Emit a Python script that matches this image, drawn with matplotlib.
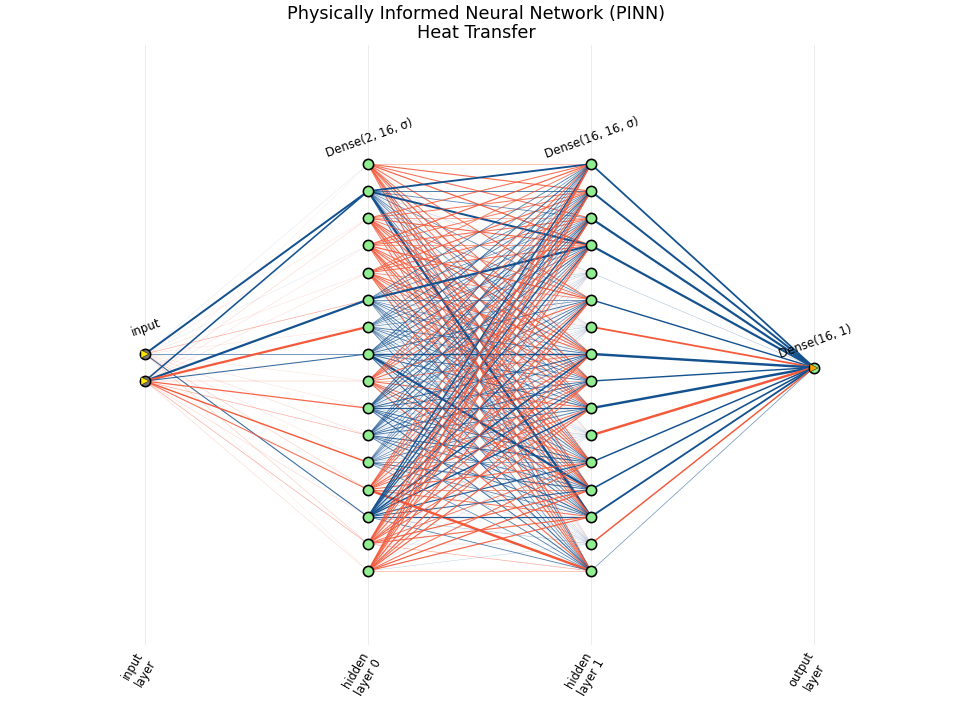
import matplotlib
matplotlib.use("Agg")
import matplotlib.pyplot as plt
from matplotlib.transforms import ScaledTranslation
import numpy as np
from matplotlib.colors import to_rgba

title = "Physically Informed Neural Network (PINN)\nHeat Transfer"
layer_sizes = [2, 16, 16, 1]
layer_tick_labels = ["input\nlayer", "hidden\nlayer 0", "hidden\nlayer 1", "output\nlayer"]
layer_captions = ["input", "Dense(2, 16, σ)", "Dense(16, 16, σ)", "Dense(16, 1)"]

# Signed connection strengths in percent, positive drawn blue, negative red.
input_to_h0 = [
    [5, 75, -8, 5, -10, -30, -10, 40, -10, -10, -15, -10, -20, 50, -20, -5],
    [-5, 65, -15, -10, -12, 80, -80, 50, -20, -55, -30, -60, -50, -15, -30, -15],
]
h0_to_h1 = [
    [-32, -52, -50, -55, -8, -50, -12, -48, -55, -45, -6, -50, -52, -48, -10, -50],
    [72, 45, 40, 75, 18, 38, 15, 42, 36, 40, 14, 38, 45, 82, 12, 44],
    [-50, -48, -35, -52, -6, -46, 8, -54, -48, -50, -10, -52, -44, -52, 8, -46],
    [-54, -46, -50, -40, -10, -55, 6, -50, -46, -52, -8, -50, -55, -44, -12, -48],
    [-46, -52, -48, -50, 8, -40, -10, -52, -50, -46, 6, -54, -46, -50, -8, -52],
    [42, 38, 36, 78, 16, 40, 18, 36, 42, 40, 16, 44, 38, 42, 14, 36],
    [36, 42, 40, 38, 20, 36, 14, 44, 38, 42, 18, 36, 40, 38, 16, 42],
    [48, 40, 44, 42, 16, 46, 20, 62, 44, 48, 14, 40, 80, 46, 18, 50],
    [-50, -46, -52, -48, -8, -52, 10, -46, -30, -50, -10, -48, -52, -46, 8, -52],
    [46, 50, 44, 48, 18, 42, 16, 50, 46, 55, 20, 46, 44, 50, 14, 48],
    [40, 44, 48, 42, 14, 46, 18, 42, 48, 44, 16, 50, 42, 46, 20, 42],
    [30, 34, 38, 40, 20, 36, 14, 38, 34, 42, 18, 36, 48, 40, 16, 38],
    [-48, -52, -46, -50, -10, -48, 8, -52, -46, -50, 8, -52, -40, -48, -8, -85],
    [60, 52, 58, 54, 18, 56, 20, 65, 52, 60, 16, 54, 50, 55, 22, 42],
    [-55, -50, -54, -46, 6, -52, -10, -48, -54, -50, -8, -46, -54, -52, 12, -30],
    [-56, -54, -50, -52, -10, -54, 8, -56, -50, -54, 10, -50, -56, -54, 14, -30],
]
h1_to_output = [[70], [75], [80], [80], [20], [60], [-70], [85], [60], [85], [-85], [62], [66], [72], [-62], [35]]
all_weights = [input_to_h0, h0_to_h1, h1_to_output]

BLUE = "#14518F"
RED = "#F4593A"


def node_y(size):
    return np.arange(size)[::-1] - (size - 1) / 2


W, H = 960, 720
fig = plt.figure(figsize=(W / 100, H / 100), dpi=100)
left, right, top, bottom = 100, 860, 45, 645
ax = fig.add_axes([left / W, 1 - bottom / H, (right - left) / W, (bottom - top) / H])
ux, uy = 223.0, 27.13
ax.set_xlim((left - 145) / ux, (right - 145) / ux)
ax.set_ylim(-(bottom - 367.5) / uy, (367.5 - top) / uy)
ax.set_xticks(range(len(layer_sizes)))
ax.set_xticklabels(layer_tick_labels, rotation=60, fontsize=8.3, ha="center", va="top",
                   linespacing=1.15)
ax.tick_params(axis="x", length=0, pad=3.5)
shift = ScaledTranslation(-6 / 100, 0, fig.dpi_scale_trans)
for lab in ax.get_xticklabels():
    lab.set_transform(lab.get_transform() + shift)
ax.set_yticks([])
for s in ax.spines.values():
    s.set_visible(False)
ax.grid(axis="x", color="#000000", alpha=0.1, lw=0.55)
ax.set_axisbelow(True)

for layer, weights in enumerate(all_weights):
    ys0 = node_y(layer_sizes[layer])
    ys1 = node_y(layer_sizes[layer + 1])
    for i, row in enumerate(weights):
        for j, pct in enumerate(row):
            mag = abs(pct) / 100
            col = to_rgba(BLUE if pct > 0 else RED, min(1, 0.1 + 1.5 * mag))
            ax.plot([layer, layer + 1], [ys0[i], ys1[j]], color=col,
                    lw=0.25 + 2.1 * mag ** 2, solid_capstyle="butt", zorder=2)

for layer, size in enumerate(layer_sizes):
    ys = node_y(size)
    xs = np.full(size, layer)
    face = "#777777" if layer == 0 else "#90EE90"
    ax.plot(xs, ys, "o", ms=7.4, mfc=face, mec="black", mew=1.15, ls="none", zorder=5)
    if layer == 0:
        ax.plot(xs, ys, ">", ms=5.6, mfc="#FFE800", mec="black", mew=0.3, ls="none", zorder=6)
    if layer == len(layer_sizes) - 1:
        ax.plot(xs, ys, ">", ms=5.6, mfc="#FFA500", mec="black", mew=0.3, ls="none", zorder=6)
    ax.annotate(layer_captions[layer], (layer, ys[0]), xytext=(0.7, 18.6), textcoords="offset points",
                rotation=20, fontsize=8.5, ha="center", va="center", zorder=7)

ax.set_title(title, fontsize=12.7, pad=5.2, linespacing=1.08, x=(476.5 - left) / (right - left))
fig.savefig("out.png", dpi=100)
